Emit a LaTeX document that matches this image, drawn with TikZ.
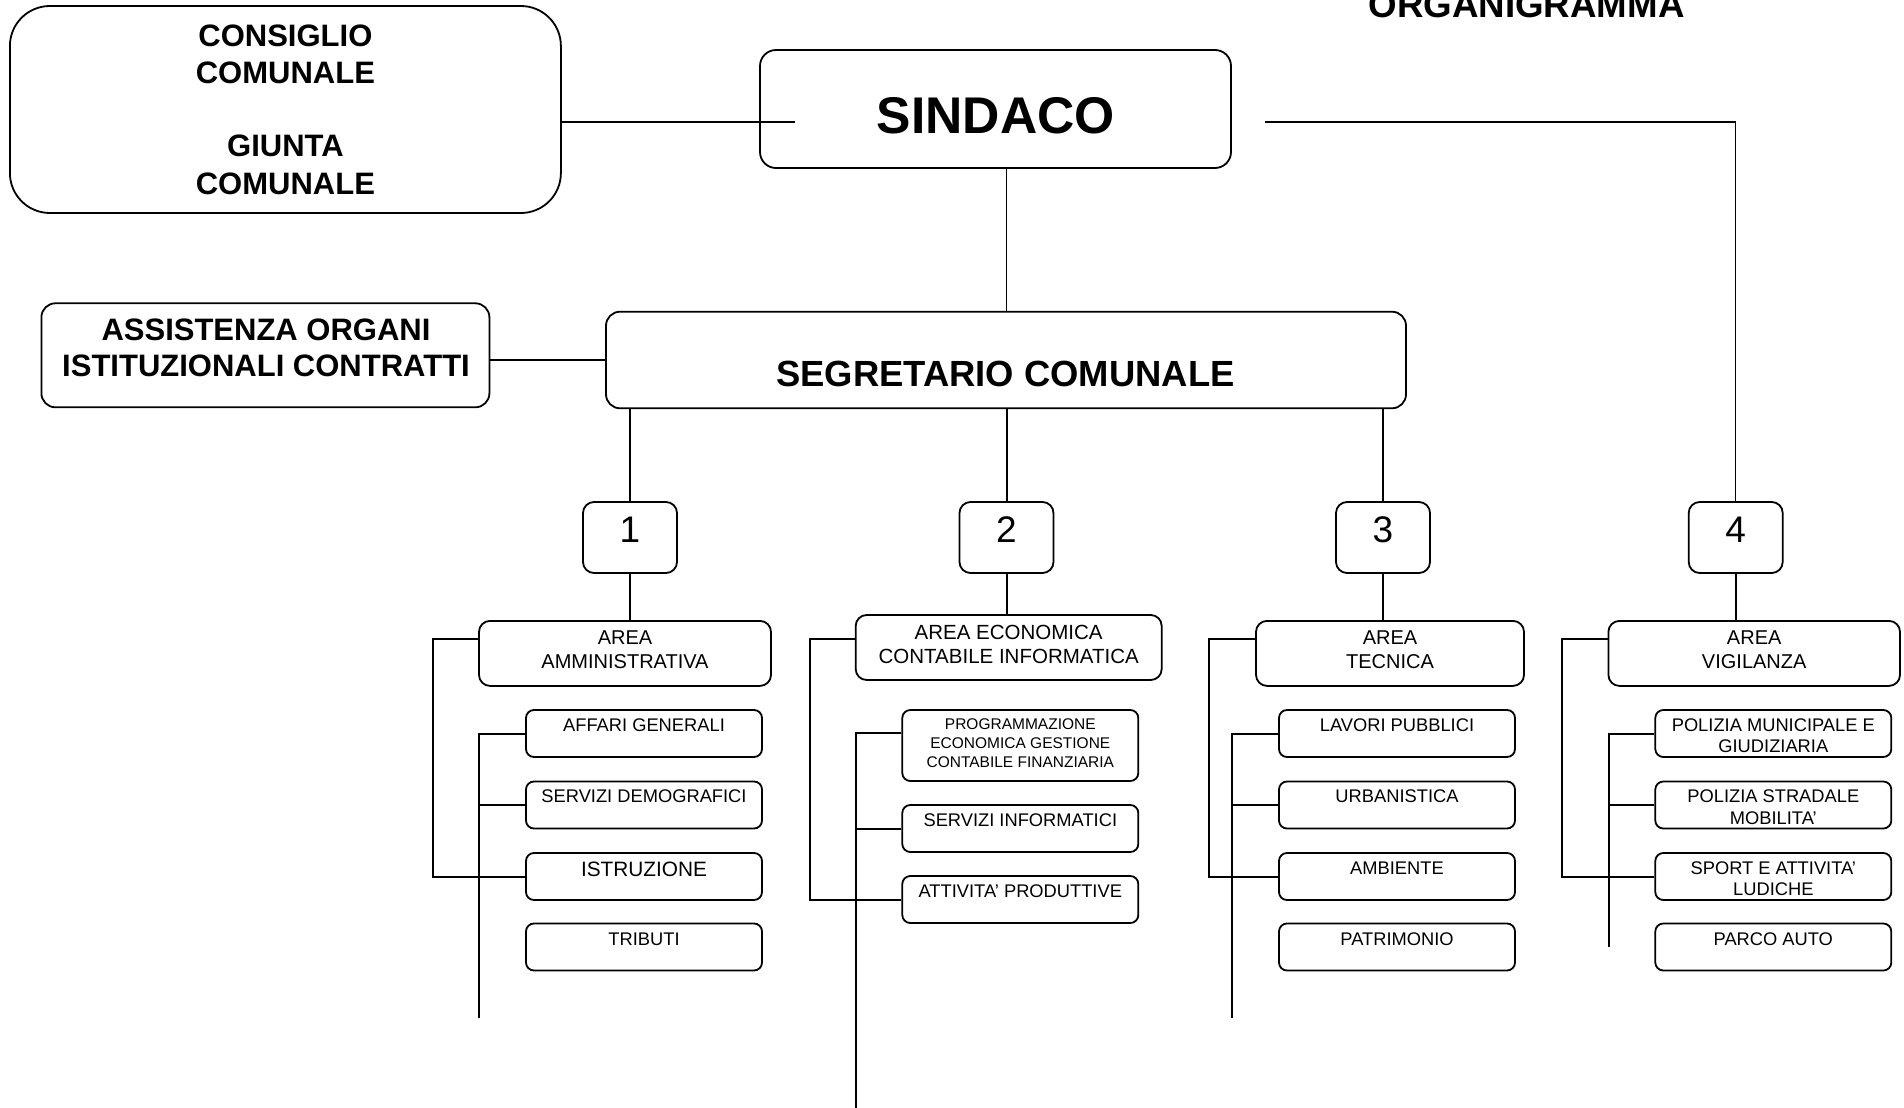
\documentclass[tikz,border=0pt]{standalone}
\usepackage{fontspec}
\setmainfont{Liberation Sans}
\newcommand\myfs[1]{\fontsize{#1pt}{#1pt}\selectfont}
\begin{document}
\begin{tikzpicture}[x=1pt,y=-1pt,
  box/.style={draw, line width=1.8pt, inner sep=0pt},
  bigbox/.style={box, rounded corners=16pt},
  numbox/.style={box, rounded corners=11pt, minimum width=94pt, minimum height=71pt},
  areabox/.style={box, rounded corners=11pt, minimum height=65pt},
  subbox/.style={box, rounded corners=8pt, minimum width=236pt, minimum height=47pt},
  tallsub/.style={subbox, minimum height=71pt},
  txt/.style={anchor=base, inner sep=0pt},
  btxt/.style={txt, font=\bfseries\myfs{31}},
  atxt/.style={txt, font=\myfs{20}},
  stxt/.style={txt, font=\myfs{18.3}},
  conn/.style={line width=2pt},
  thin/.style={line width=1.5pt}
]
\useasboundingbox (0,0) rectangle (1904,1108);

% title
\node[txt, font=\bfseries\myfs{36.7}] (title) at (1526.5,18) {ORGANIGRAMMA};

% top boxes
\node[box, rounded corners=40pt, minimum width=551pt, minimum height=207pt] (cons) at (285.4,109.5) {};
\node[btxt] (c1) at (285.4,46.5) {CONSIGLIO};
\node[btxt] (c2) at (285.4,83.3) {COMUNALE};
\node[btxt] (c3) at (285.4,156.7) {GIUNTA};
\node[btxt] (c4) at (285.4,194) {COMUNALE};

\node[bigbox, minimum width=471pt, minimum height=118pt] (sind) at (995.5,109) {};
\node[txt, font=\bfseries\myfs{51.6}] (sindt) at (995.7,133) {SINDACO};

\node[bigbox, rounded corners=14pt, minimum width=448pt, minimum height=104pt] (assi) at (265.4,355.3) {};
\node[btxt] (a1) at (266,340) {ASSISTENZA ORGANI};
\node[btxt] (a2) at (266,376.7) {ISTITUZIONALI CONTRATTI};

\node[bigbox, rounded corners=14pt, minimum width=800pt, minimum height=96.6pt] (segr) at (1006,360) {};
\node[txt, font=\bfseries\myfs{36.4}] (segrt) at (1005.5,386.7) {SEGRETARIO COMUNALE};

% numbered boxes
\node[numbox] (n1) at (630,537.5) {};
\node[numbox] (n2) at (1006.5,537.5) {};
\node[numbox] (n3) at (1383,537.5) {};
\node[numbox] (n4) at (1735.7,537.5) {};
\foreach \x/\n in {630/1,1006.5/2,1383/3,1735.7/4}
  \node[txt, font=\myfs{37}] (d\n) at (\x,542) {\n};

% area boxes
\node[areabox, minimum width=292pt] (areaA) at (625,653.4) {};
\node[atxt] (aa1) at (625,644) {AREA};
\node[atxt] (aa2) at (625,668) {AMMINISTRATIVA};
\node[areabox, minimum width=306pt] (areaE) at (1008.7,647.5) {};
\node[atxt, font=\myfs{20.5}] (ae1) at (1008.7,639.2) {AREA ECONOMICA};
\node[atxt, font=\myfs{20.5}] (ae2) at (1008.7,663.2) {CONTABILE INFORMATICA};
\node[areabox, minimum width=268pt] (areaT) at (1390,653.4) {};
\node[atxt] (at1) at (1390,644) {AREA};
\node[atxt] (at2) at (1390,668) {TECNICA};
\node[areabox, minimum width=291.6pt] (areaV) at (1754.2,653.4) {};
\node[atxt] (av1) at (1754.2,644) {AREA};
\node[atxt] (av2) at (1754.2,668) {VIGILANZA};

% column 1
\node[subbox] (s11) at (644,733.5) {};
\node[subbox] (s12) at (644,805) {};
\node[subbox] (s13) at (644,876.5) {};
\node[subbox] (s14) at (644,947) {};
\node[stxt] (t11) at (644,731) {AFFARI GENERALI};
\node[stxt] (t12) at (644,802) {SERVIZI DEMOGRAFICI};
\node[stxt, font=\myfs{20.8}] (t13) at (644,876) {ISTRUZIONE};
\node[stxt] (t14) at (644,945) {TRIBUTI};

% column 2
\node[tallsub] (s21) at (1020.3,745.5) {};
\node[subbox] (s22) at (1020.3,828.5) {};
\node[subbox] (s23) at (1020.3,899.5) {};
\node[txt, font=\myfs{15.5}] (t21a) at (1020.3,729) {PROGRAMMAZIONE};
\node[txt, font=\myfs{15.5}] (t21b) at (1020.3,748) {ECONOMICA GESTIONE};
\node[txt, font=\myfs{15.5}] (t21c) at (1020.3,767) {CONTABILE FINANZIARIA};
\node[stxt] (t22) at (1020.3,826) {SERVIZI INFORMATICI};
\node[stxt] (t23) at (1020.3,897) {ATTIVITA’ PRODUTTIVE};

% column 3
\node[subbox] (s31) at (1397,733.5) {};
\node[subbox] (s32) at (1397,805) {};
\node[subbox] (s33) at (1397,876.5) {};
\node[subbox] (s34) at (1397,947) {};
\node[stxt] (t31) at (1397,731) {LAVORI PUBBLICI};
\node[stxt] (t32) at (1397,802) {URBANISTICA};
\node[stxt] (t33) at (1397,874) {AMBIENTE};
\node[stxt] (t34) at (1397,945) {PATRIMONIO};

% column 4
\node[subbox] (s41) at (1773.3,733.5) {};
\node[subbox] (s42) at (1773.3,805) {};
\node[subbox] (s43) at (1773.3,876.5) {};
\node[subbox] (s44) at (1773.3,947) {};
\node[stxt] (t41a) at (1773.3,731) {POLIZIA MUNICIPALE E};
\node[stxt] (t41b) at (1773.3,752) {GIUDIZIARIA};
\node[stxt] (t42a) at (1773.3,802) {POLIZIA STRADALE};
\node[stxt] (t42b) at (1773.3,824) {MOBILITA’};
\node[stxt] (t43a) at (1773.3,874) {SPORT E ATTIVITA’};
\node[stxt] (t43b) at (1773.3,895) {LUDICHE};
\node[stxt] (t44) at (1773.3,945) {PARCO AUTO};

% ---- connectors ----
\coordinate (cs) at (795.4,121.7);
\draw[conn] (cons.east |- cs) -- (cs);
\coordinate (sr) at (1265.3,121.7);
\draw[conn] (sr) -- (sr -| n4.north);
\draw[thin] (sr -| n4.north) -- (n4.north);
\draw[thin] (sind.south -| 1006.6,0) -- (segr.north -| 1006.6,0);
\coordinate (as) at (0,360);
\draw[conn] (assi.east |- as) -- (segr.west |- as);

\foreach \k in {1,2,3}
  \draw[conn] (segr.south -| n\k.north) -- (n\k.north);
\draw[conn] (n1.south) -- (n1.south |- areaA.north);
\draw[conn] (n2.south) -- (n2.south |- areaE.north);
\draw[conn] (n3.south) -- (n3.south |- areaT.north);
\draw[conn] (n4.south) -- (n4.south |- areaV.north);

% column 1 brackets
\coordinate (o1) at (433,638.8);
\coordinate (i1) at (479,1018);
\draw[conn] (areaA.west |- o1) -- (o1) |- (s13.west);
\draw[conn] (s11.west) -| (i1);
\draw[conn] (s12.west) -- (s12.west -| i1);

% column 2 brackets
\coordinate (o2) at (809.7,638.8);
\coordinate (i2t) at (855.6,733);
\coordinate (i2) at (855.6,1108);
\draw[conn] (areaE.west |- o2) -- (o2) |- (s23.west);
\draw[conn] (s21.west |- i2t) -- (i2t) -- (i2);
\draw[conn] (s22.west) -- (s22.west -| i2);
\draw[conn] (s23.west) -- (s23.west -| i2);

% column 3 brackets
\coordinate (o3) at (1208.6,638.8);
\coordinate (i3) at (1232,1018);
\draw[conn] (areaT.west |- o3) -- (o3) |- (s33.west);
\draw[conn] (s31.west) -| (i3);
\draw[conn] (s32.west) -- (s32.west -| i3);

% column 4 brackets
\coordinate (o4) at (1561.8,638.8);
\coordinate (i4) at (1609,947);
\draw[conn] (areaV.west |- o4) -- (o4) |- (s43.west);
\draw[conn] (s41.west) -| (i4);
\draw[conn] (s42.west) -- (s42.west -| i4);
\end{tikzpicture}
\end{document}
